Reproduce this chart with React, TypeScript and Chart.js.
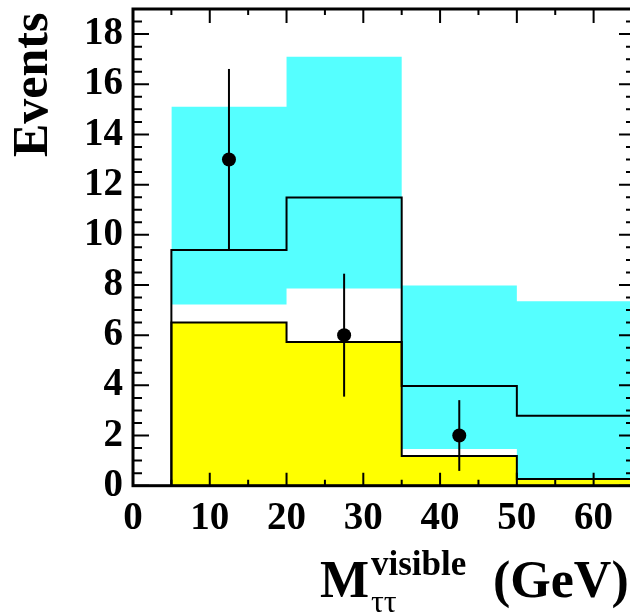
import React, { useEffect, useRef } from "react";
import { Chart, registerables } from "chart.js";

Chart.register(...registerables);

// ---- data ----
const binEdges = [5, 20, 35, 50, 65];
const bandUpper = [15.1, 17.1, 7.98, 7.35];
const bandLower = [7.22, 7.86, 1.46, 0.29];
const totalExpected = [9.39, 11.49, 3.97, 2.79];
const background = [6.5, 5.73, 1.18, 0.27];
const dataX = [12.5, 27.5, 42.5];
const dataY = [13, 6, 2];
const dataErr = [3.61, 2.45, 1.41];

const X_MIN = 0;
const X_MAX = 65;
const X_STEP = 10;
const X_MINOR = 5;
const Y_MIN = 0;
const Y_MAX = 19;
const Y_STEP = 2;
const Y_MINOR = 0.5;

const yTitle = "Events";
const xTitleMain = "M";
const xTitleSup = "visible";
const xTitleSub = "ττ";
const xTitleUnit = "(GeV)";

const FONT = "'Liberation Serif', 'Times New Roman', Times, serif";

function stepPoints(values: number[], withBase: boolean) {
  const pts: { x: number; y: number }[] = [];
  if (withBase) pts.push({ x: binEdges[0], y: 0 });
  values.forEach((v, i) => pts.push({ x: binEdges[i], y: v }));
  pts.push({ x: binEdges[binEdges.length - 1], y: values[values.length - 1] });
  return pts;
}

const framePlugin = {
  id: "frameAndExtras",
  afterDatasetsDraw(chart: any) {
    const { ctx, chartArea: a, scales } = chart;
    const xs = scales.x;
    const ys = scales.y;
    ctx.save();
    // error bars
    ctx.strokeStyle = "#000";
    ctx.lineWidth = 2;
    dataX.forEach((x, i) => {
      const px = xs.getPixelForValue(x);
      ctx.beginPath();
      ctx.moveTo(px, ys.getPixelForValue(dataY[i] - dataErr[i]));
      ctx.lineTo(px, ys.getPixelForValue(dataY[i] + dataErr[i]));
      ctx.stroke();
    });
    // inward ticks
    ctx.lineWidth = 2;
    for (let v = X_MIN; v <= X_MAX + 1e-9; v += X_MINOR) {
      const px = xs.getPixelForValue(v);
      const major = Math.abs(v / X_STEP - Math.round(v / X_STEP)) < 1e-6;
      ctx.beginPath();
      ctx.moveTo(px, a.bottom);
      ctx.lineTo(px, a.bottom - (major ? 13 : 6));
      ctx.moveTo(px, a.top);
      ctx.lineTo(px, a.top + (major ? 14 : 6));
      ctx.stroke();
    }
    for (let v = Y_MIN; v <= Y_MAX + 1e-9; v += Y_MINOR) {
      const py = ys.getPixelForValue(v);
      const major = Math.abs(v / Y_STEP - Math.round(v / Y_STEP)) < 1e-6;
      ctx.beginPath();
      ctx.moveTo(a.left, py);
      ctx.lineTo(a.left + (major ? 16 : 9), py);
      ctx.moveTo(a.right, py);
      ctx.lineTo(a.right - (major ? 13 : 6), py);
      ctx.stroke();
    }
    // frame
    ctx.lineWidth = 3;
    ctx.strokeRect(a.left, a.top, a.right - a.left, a.bottom - a.top);
    ctx.restore();
  },
  afterDraw(chart: any) {
    const ctx = chart.ctx;
    ctx.save();
    ctx.fillStyle = "#000";
    ctx.textAlign = "left";
    ctx.textBaseline = "alphabetic";
    ctx.font = `bold 50px ${FONT}`;
    ctx.save();
    ctx.translate(47, 157);
    ctx.rotate(-Math.PI / 2);
    ctx.fillText(yTitle, 0, 0);
    ctx.restore();
    ctx.font = `bold 52px ${FONT}`;
    ctx.fillText(xTitleMain, 320, 597);
    ctx.font = `bold 35px ${FONT}`;
    ctx.fillText(xTitleSup, 371, 575);
    ctx.font = `32px ${FONT}`;
    ctx.fillText(xTitleSub, 371, 612);
    ctx.font = `bold 52px ${FONT}`;
    ctx.fillText(xTitleUnit, 493, 597);
    ctx.restore();
  },
};

export default function App() {
  const ref = useRef<HTMLCanvasElement | null>(null);

  useEffect(() => {
    if (!ref.current) return;
    const tickFont = { family: FONT, size: 39, weight: "bold" as const };
    const chart = new Chart(ref.current, {
      type: "line",
      data: {
        datasets: [
          {
            label: "data",
            data: dataX.map((x, i) => ({ x, y: dataY[i] })),
            showLine: false,
            pointRadius: 7,
            pointBackgroundColor: "#000",
            pointBorderWidth: 0,
            borderColor: "#000",
            order: 1,
          } as any,
          {
            label: "total",
            data: stepPoints(totalExpected, true),
            stepped: true,
            borderColor: "#000",
            borderWidth: 2,
            pointRadius: 0,
            fill: false,
            order: 2,
          },
          {
            label: "background",
            data: stepPoints(background, true),
            stepped: true,
            borderColor: "#000",
            borderWidth: 2,
            backgroundColor: "#ffff00",
            pointRadius: 0,
            fill: "origin",
            order: 3,
          },
          {
            label: "bandLower",
            data: stepPoints(bandLower, false),
            stepped: true,
            borderWidth: 0,
            borderColor: "rgba(0,0,0,0)",
            pointRadius: 0,
            fill: false,
            order: 4,
          },
          {
            label: "bandUpper",
            data: stepPoints(bandUpper, false),
            stepped: true,
            borderWidth: 0,
            borderColor: "rgba(0,0,0,0)",
            backgroundColor: "#55ffff",
            pointRadius: 0,
            fill: "-1",
            order: 5,
          },
        ],
      },
      options: {
        animation: false,
        responsive: false,
        events: [],
        layout: { padding: { top: 9, right: 8, left: 0, bottom: 0 } },
        plugins: { legend: { display: false }, tooltip: { enabled: false } },
        scales: {
          x: {
            type: "linear",
            min: X_MIN,
            max: X_MAX,
            grid: { display: false, drawTicks: false },
            border: { display: false },
            ticks: {
              stepSize: X_STEP,
              includeBounds: false,
              color: "#000",
              font: tickFont,
              padding: 10,
              maxRotation: 0,
            },
            afterFit: (s: any) => {
              s.height = 128.3;
              s.paddingLeft = 0;
              s.paddingRight = 0;
            },
          },
          y: {
            type: "linear",
            min: Y_MIN,
            max: Y_MAX,
            grid: { display: false, drawTicks: false },
            border: { display: false },
            ticks: {
              stepSize: Y_STEP,
              includeBounds: false,
              color: "#000",
              font: tickFont,
              padding: 10,
            },
            afterFit: (s: any) => {
              s.width = 133;
              s.paddingTop = 0;
              s.paddingBottom = 0;
            },
          },
        },
      },
      plugins: [framePlugin],
    });
    return () => chart.destroy();
  }, []);

  return (
    <div
      style={{
        position: "fixed",
        left: 0,
        top: 0,
        width: 630,
        height: 614,
        overflow: "hidden",
        background: "#fff",
      }}
    >
      <canvas ref={ref} width={640} height={614} style={{ width: 640, height: 614, display: "block" }} />
    </div>
  );
}
